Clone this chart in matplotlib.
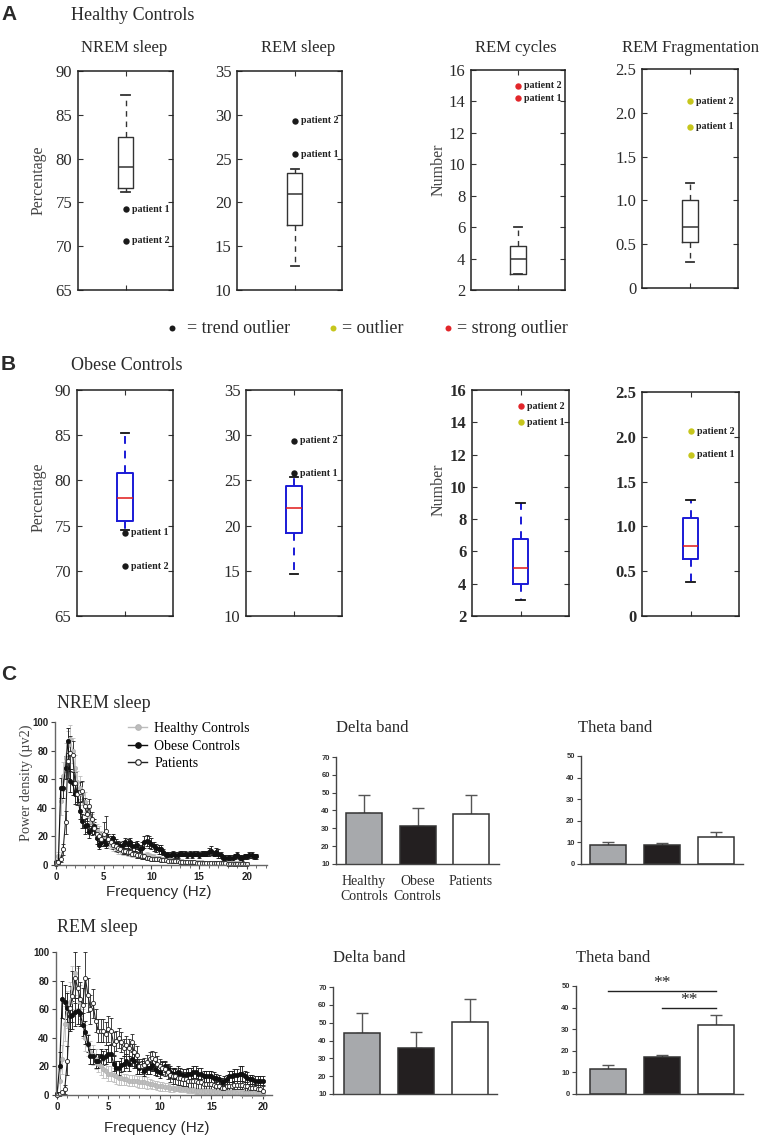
import numpy as np
import matplotlib
matplotlib.use("Agg")
import matplotlib.pyplot as plt
from matplotlib.lines import Line2D
from matplotlib.ticker import MultipleLocator

SERIF = ["Liberation Serif", "DejaVu Serif"]
SANS = ["Liberation Sans", "DejaVu Sans"]
plt.rcParams["font.family"] = SERIF

# ======================= DATA =======================
# ---- Panels A / B: box plots ----
box_titles = ["NREM sleep", "REM sleep", "REM cycles", "REM Fragmentation"]
box_ylabels = ["Percentage", None, "Number", None]
box_ylims = [(65, 90), (10, 35), (2, 16), (0, 2.5)]
box_yticks = [[65, 70, 75, 80, 85, 90], [10, 15, 20, 25, 30, 35],
              [2, 4, 6, 8, 10, 12, 14, 16], [0, 0.5, 1.0, 1.5, 2.0, 2.5]]
box_yticklabels = [None, None, None, ["0", "0.5", "1.0", "1.5", "2.0", "2.5"]]

healthy_whislo = [76.2, 12.7, 3.0, 0.30]
healthy_q1 = [76.7, 17.4, 3.0, 0.52]
healthy_med = [79.0, 21.0, 4.0, 0.70]
healthy_q3 = [82.5, 23.3, 4.8, 1.00]
healthy_whishi = [87.3, 23.8, 6.0, 1.20]
healthy_patient1 = [74.2, 25.5, 14.2, 1.84]
healthy_patient2 = [70.6, 29.3, 15.0, 2.13]
healthy_patient1_class = ["trend", "trend", "strong", "outlier"]
healthy_patient2_class = ["trend", "trend", "strong", "outlier"]

obese_whislo = [74.5, 14.6, 3.0, 0.38]
obese_q1 = [75.5, 19.2, 4.0, 0.64]
obese_med = [78.0, 22.0, 5.0, 0.78]
obese_q3 = [80.8, 24.4, 6.8, 1.09]
obese_whishi = [85.2, 25.4, 9.0, 1.29]
obese_patient1 = [74.2, 25.8, 14.0, 1.80]
obese_patient2 = [70.5, 29.4, 15.0, 2.06]
obese_patient1_class = ["trend", "trend", "outlier", "outlier"]
obese_patient2_class = ["trend", "trend", "strong", "outlier"]

outlier_legend = [("trend", "= trend outlier"), ("outlier", "= outlier"),
                  ("strong", "= strong outlier")]

# ---- Panel C: power spectra (0.25 Hz bins) ----
group_names = ["Healthy Controls", "Obese Controls", "Patients"]
freq_step = 0.25

nrem_healthy = [2, 6, 45, 62, 75, 84, 88, 80, 68, 58, 54, 50, 44, 38, 34, 30,
                27, 24, 22, 20, 18, 17, 16, 14, 13, 12, 11, 10.5, 10, 9.5, 9, 8.5,
                8, 7.5, 7, 6.8, 6.5, 6.5, 6.8, 6.5, 6, 5.5, 5, 4.6, 4.3, 4, 3.7, 3.5,
                3.3, 3.1, 3, 2.8, 2.6, 2.5, 2.4, 2.3, 2.2, 2.1, 2, 1.9, 1.8, 1.8,
                1.7, 1.6, 1.6, 1.5, 1.5, 1.4, 1.4, 1.3, 1.3, 1.3, 1.2, 1.2, 1.2, 1.1,
                1.1, 1.1, 1.0, 1.0, 1.0]
nrem_healthy_err = [1, 3, 10, 10, 10, 10, 10, 9, 9, 8, 8, 8, 7, 7, 6, 6,
                    5, 5, 5, 4, 4, 4, 4, 3, 3, 3, 3, 3, 3, 2.5, 2.5, 2.5,
                    2.5, 2, 2, 2, 2, 2, 2, 2, 2, 2, 1.5, 1.5, 1.5, 1.5, 1.5, 1.5,
                    1.5, 1, 1, 1, 1, 1, 1, 1, 1, 1, 1, 1, 1, 1, 1, 1, 1, 1,
                    1, 1, 1, 1, 1, 1, 1, 1, 1, 1, 1, 1, 1, 1, 1]
nrem_obese = [2, 2, 54, 54, 68, 87, 59, 57, 50, 51, 38, 31, 27, 28, 23, 25,
              27, 19, 14, 16, 17, 15, 18, 17, 19, 15, 14, 13, 14, 16, 15, 16,
              13, 13, 14, 11, 12, 16, 17, 16, 15, 13, 12, 11, 11, 9, 7, 7,
              7, 8, 7, 7, 8, 8, 8, 7, 8, 7, 8, 8, 7, 8, 8, 8,
              9, 10, 8, 9, 8, 7, 5, 5, 5, 5, 5, 6, 7, 5, 5, 6,
              6, 7, 7, 6, 6]
nrem_obese_err = [1, 1, 7, 7, 8, 9, 8, 8, 7, 7, 6, 5, 5, 5, 4, 4,
                  5, 4, 3, 3, 4, 3, 4, 3, 3, 3, 3, 3, 3, 3, 3, 3,
                  3, 3, 3, 3, 4, 4, 4, 4, 4, 3, 3, 3, 3, 2, 2, 2,
                  2, 2, 2, 2, 2, 2, 2, 2, 2, 2, 2, 2, 2, 2, 2, 2,
                  3, 3, 2, 3, 3, 2, 2, 2, 2, 2, 2, 2, 2, 2, 2, 2,
                  2, 2, 2, 2, 2]
nrem_patients = [1, 2, 4, 11, 30, 73, 78, 77, 57, 50, 51, 52, 41, 36, 41, 32,
                 26, 22, 20, 18, 22, 24, 18, 16, 14, 13, 12, 11, 10, 10, 9, 9,
                 8, 8, 7, 7, 6, 6, 5, 5, 4.5, 4.5, 4, 4, 3.5, 3.5, 3.2, 3,
                 3, 2.8, 2.6, 2.5, 2.4, 2.3, 2.2, 2.1, 2, 1.9, 1.8, 1.7,
                 1.6, 1.5, 1.4, 1.4, 1.3, 1.3, 1.2, 1.2, 1.2, 1.1, 1.1, 1.1,
                 1, 1, 1, 1, 1, 1, 1, 1, 1]
nrem_patients_err = [1, 1, 2, 4, 8, 12, 12, 10, 8, 8, 7, 7, 6, 5, 5, 5,
                     4, 4, 3, 3, 8, 10, 4, 3, 3, 3, 3, 2, 2, 2, 2, 2,
                     2, 2, 2, 2, 2, 2, 1.5, 1.5, 1.5, 1.5, 1.5, 1.5, 1.5, 1, 1, 1,
                     1, 1, 1, 1, 1, 1, 1, 1, 1, 1, 1, 1, 1, 1, 1, 1,
                     1, 1, 1, 1, 1, 1, 1, 1, 1, 1, 1, 1, 1, 1, 1, 1, 1]

rem_healthy = [1, 10, 25, 50, 60, 65, 75, 85, 75, 65, 50, 40, 35, 30, 28, 25,
               22, 20, 18, 17, 15, 15, 14, 13, 12, 12, 11, 11, 10, 10, 10, 9.5,
               9, 9, 9, 8.5, 8, 7.5, 7, 6.5, 6, 6, 5.5, 5.5, 5, 5, 4.5, 4.5,
               4, 4, 4, 3.5, 3.5, 3.5, 3, 3, 3, 3, 2.8, 2.6, 2.5, 2.5, 2.3, 2.2,
               2, 2, 2, 1.9, 1.8, 1.8, 1.7, 1.7, 1.6, 1.6, 1.5, 1.5,
               1.5, 1.5, 1.5, 1.5, 1.5]
rem_healthy_err = [1, 8, 10, 12, 13, 14, 15, 15, 14, 12, 10, 9, 8, 8, 7, 7,
                   6, 6, 6, 5, 5, 5, 5, 5, 5, 5, 4, 4, 4, 4, 4, 4,
                   4, 4, 4, 4, 3, 3, 3, 3, 3, 3, 3, 3, 3, 3, 2, 2,
                   2, 2, 2, 2, 2, 2, 2, 2, 2, 2, 2, 2, 2, 2, 2, 2,
                   2, 2, 2, 2, 2, 2, 2, 2, 2, 2, 2, 2, 2, 2, 2, 2, 2]
rem_obese = [1, 20, 67, 65, 61, 55, 56, 58, 59, 57, 49, 44, 36, 27, 27, 24,
             24, 27, 26, 27, 29, 29, 22, 19, 19, 21, 22, 24, 22, 25, 24, 20,
             19, 20, 17, 19, 19, 21, 18, 17, 16, 19, 20, 18, 16, 15, 15, 16,
             15, 14, 14, 15, 15, 16, 16, 15, 15, 13, 13, 13, 13, 12, 12, 11,
             9, 10, 11, 13, 13, 14, 14, 15, 15, 13, 12, 11, 11, 10, 10, 10, 10]
rem_obese_err = [1, 10, 13, 12, 10, 10, 10, 10, 9, 9, 8, 8, 6, 5, 5, 5,
                 5, 5, 5, 5, 6, 6, 5, 5, 5, 5, 5, 5, 5, 5, 5, 5,
                 4, 4, 4, 4, 4, 4, 4, 4, 4, 4, 4, 4, 4, 4, 4, 4,
                 4, 4, 4, 4, 4, 4, 4, 4, 4, 4, 4, 4, 4, 4, 3, 3,
                 3, 3, 3, 4, 4, 4, 4, 5, 5, 4, 4, 3, 3, 3, 3, 3, 3]
rem_patients = [0, 1, 2, 4, 24, 61, 69, 82, 75, 67, 63, 82, 70, 60, 64, 52,
                45, 45, 45, 43, 46, 45, 36, 38, 40, 37, 33, 35, 33, 37, 30, 28,
                20, 20, 21, 23, 25, 26, 25, 22, 20, 19, 18, 16, 14, 13, 13, 12,
                12, 11, 11, 10, 10, 10, 10, 9, 9, 8, 8, 8, 8, 7, 6, 6,
                5, 5, 6, 6, 6, 7, 7, 7, 7, 6, 6, 5, 5, 5, 4, 4, 3]
rem_patients_err = [0.5, 1, 1, 3, 10, 15, 18, 18, 15, 12, 12, 18, 12, 10, 10, 8,
                    8, 8, 8, 8, 9, 9, 8, 7, 7, 7, 6, 6, 6, 6, 6, 6,
                    5, 5, 5, 5, 5, 5, 5, 5, 5, 5, 5, 5, 5, 5, 5, 5,
                    5, 5, 5, 5, 6, 6, 6, 6, 5, 5, 5, 5, 4, 4, 4, 4,
                    3, 3, 3, 3, 3, 3, 3, 3, 3, 3, 3, 3, 3, 3, 3, 3, 3]

# ---- Panel C: band power bars ----
bar_groups = ["Healthy\nControls", "Obese\nControls", "Patients"]
nrem_delta_mean = [38.8, 31.2, 38.2]
nrem_delta_sem = [9.8, 10.3, 10.6]
nrem_theta_mean = [8.6, 9.0, 12.3]
nrem_theta_sem = [1.8, 0.5, 2.5]
rem_delta_mean = [44.1, 35.7, 50.6]
rem_delta_sem = [11.4, 9.1, 12.9]
rem_theta_mean = [11.4, 17.3, 32.1]
rem_theta_sem = [2.0, 0.9, 4.5]
rem_theta_sig_pairs = [(0, 2), (1, 2)]
rem_theta_sig_heights = [47.8, 39.8]
rem_theta_sig_labels = ["**", "**"]

# ======================= STYLE / LAYOUT =======================
W, H = 764, 1137
fig = plt.figure(figsize=(W / 100, H / 100), dpi=100)

TXT = "#2a2a2a"
CLASS_COLORS = {"trend": "#1a1a1a", "outlier": "#c6c61c", "strong": "#e2262a"}
GROUP_COLORS = ["#a7a9ac", "#231f20", "#ffffff"]


def px_axes(l, t, r, b):
    return fig.add_axes([l / W, 1 - b / H, (r - l) / W, (b - t) / H])


def ftext(x, y, s, **kw):
    kw.setdefault("color", TXT)
    return fig.text(x / W, 1 - y / H, s, **kw)


# panel letters / headings
ftext(1, 15, "A", family=SANS, weight="bold", fontsize=15, va="center")
ftext(71, 15, "Healthy Controls", fontsize=13, va="center")
ftext(1, 365, "B", family=SANS, weight="bold", fontsize=15, va="center")
ftext(71, 366, "Obese Controls", fontsize=13, va="center")
ftext(1, 675, "C", family=SANS, weight="bold", fontsize=15, va="center")

# ---- box plots ----
row_A_axes = [(78, 71, 173, 290, 125.5), (237, 71, 342, 290, 294.7),
              (471, 70, 565, 290, 518), (642, 69, 738, 288, 690)]
row_B_axes = [(77, 390, 173, 616, 125), (246, 390, 342, 616, 294),
              (472, 390, 569, 616, 520.5), (642, 392, 739, 616, 690.5)]
title_centers = [124, 298, 516, 690]
ylabel_x = [39, None, 439, None]

rows = [
    dict(axes=row_A_axes, lo=healthy_whislo, q1=healthy_q1, med=healthy_med,
         q3=healthy_q3, hi=healthy_whishi, p1=healthy_patient1, p2=healthy_patient2,
         c1=healthy_patient1_class, c2=healthy_patient2_class,
         boxc="#333333", medc="#333333", whc="#333333", capc="#333333",
         bold=[False, False, False, False], titles=True, ylab_y=[180, None, 170, None]),
    dict(axes=row_B_axes, lo=obese_whislo, q1=obese_q1, med=obese_med,
         q3=obese_q3, hi=obese_whishi, p1=obese_patient1, p2=obese_patient2,
         c1=obese_patient1_class, c2=obese_patient2_class,
         boxc="#1a1ad6", medc="#e01818", whc="#1a1ad6", capc="#111111",
         bold=[False, False, True, True], titles=False, ylab_y=[497, None, 490, None]),
]

S = 95.0
for row in rows:
    for i, (l, t, r, b, cx) in enumerate(row["axes"]):
        ax = px_axes(l, t, r, b)
        ax.set_xlim(1 - (cx - l) / S, 1 + (r - cx) / S)
        stats = [dict(whislo=row["lo"][i], q1=row["q1"][i], med=row["med"][i],
                      q3=row["q3"][i], whishi=row["hi"][i], fliers=[])]
        lw = 1.0 if row["titles"] else 1.4
        ax.bxp(stats, positions=[1], widths=0.16, capwidths=[0.085],
               showfliers=False, manage_ticks=False,
               boxprops=dict(color=row["boxc"], lw=lw),
               medianprops=dict(color=row["medc"], lw=1.1),
               whiskerprops=dict(color=row["whc"], lw=lw, linestyle=(0, (4, 3.5))),
               capprops=dict(color=row["capc"], lw=1.3))
        for val, cls, lab in [(row["p1"][i], row["c1"][i], "patient 1"),
                              (row["p2"][i], row["c2"][i], "patient 2")]:
            ax.plot([1], [val], "o", ms=4.6, color=CLASS_COLORS[cls], mec="none")
            ax.annotate(lab, (1, val), xytext=(4.5, 0), textcoords="offset points",
                        va="center", ha="left", fontsize=7.2, weight="bold",
                        color="#222222")
        ax.set_ylim(*box_ylims[i])
        ax.set_yticks(box_yticks[i])
        if box_yticklabels[i] is not None:
            ax.set_yticklabels(box_yticklabels[i])
        ax.set_xticks([1])
        ax.set_xticklabels([])
        ax.tick_params(axis="both", direction="in", length=3.5, width=0.8,
                       right=True, top=True, colors="#333333", labelsize=12, pad=4)
        for lbl in ax.get_yticklabels():
            lbl.set_family(SERIF)
            lbl.set_color(TXT)
            if row["bold"][i]:
                lbl.set_weight("bold")
        for sp in ax.spines.values():
            sp.set_linewidth(1.1)
            sp.set_color("#222222")
        if row["titles"]:
            ftext(title_centers[i], 48, box_titles[i], fontsize=12, ha="center", va="center")
        if box_ylabels[i] is not None:
            ftext(ylabel_x[i], row["ylab_y"][i], box_ylabels[i], fontsize=11.5,
                  rotation=90, ha="center", va="center", color="#444444")

# outlier legend row
leg_dot_x = [172, 333, 448]
leg_txt_x = [187, 342, 457]
for (cls, lab), dx, tx in zip(outlier_legend, leg_dot_x, leg_txt_x):
    fig.add_artist(Line2D([dx / W], [1 - 328 / H], marker="o", ms=4.3,
                          color=CLASS_COLORS[cls], mec="none", ls="none",
                          transform=fig.transFigure))
    ftext(tx, 328, lab, fontsize=13, va="center", ha="left")


# ---- spectra ----
def draw_spectrum(box, xlim, series, legend=False):
    l, t, r, b = box
    ax = px_axes(l, t, r, b)
    styles = [dict(color="#bdbdbd", mfc="#bdbdbd", mec="#b5b5b5"),
              dict(color="#111111", mfc="#111111", mec="#111111"),
              dict(color="#222222", mfc="#ffffff", mec="#222222")]
    handles = []
    for (vals, errs), st, name in zip(series, styles, group_names):
        f = np.arange(len(vals)) * freq_step
        ax.errorbar(f, vals, yerr=errs, marker="o", ms=3.0, lw=0.8,
                    elinewidth=0.6, capsize=1.6, capthick=0.6, mew=0.6,
                    clip_on=False, **st)
        handles.append(Line2D([], [], marker="o", ms=4.0, lw=1.0, mew=0.8, **st))
    ax.set_xlim(*xlim)
    ax.set_ylim(0, 100)
    ax.set_xticks([0, 5, 10, 15, 20])
    ax.xaxis.set_minor_locator(MultipleLocator(1))
    ax.set_yticks([0, 20, 40, 60, 80, 100])
    ax.spines[["top", "right"]].set_visible(False)
    for sp in ["left", "bottom"]:
        ax.spines[sp].set_color("#666666")
        ax.spines[sp].set_linewidth(1.0)
    ax.tick_params(axis="both", which="major", direction="out", length=3, width=0.8,
                   colors="#444444", labelsize=7, pad=2)
    ax.tick_params(axis="x", which="minor", direction="out", length=2, width=0.6,
                   colors="#555555")
    for lbl in ax.get_xticklabels() + ax.get_yticklabels():
        lbl.set_family(SANS)
        lbl.set_weight("bold")
        lbl.set_color("#222222")
    if legend:
        ax.legend(handles, group_names, loc="upper left",
                  bbox_to_anchor=(128 / W, 1 - 722 / H), bbox_transform=fig.transFigure,
                  frameon=False, borderpad=0, borderaxespad=0, handlelength=1.4,
                  handletextpad=0.5, labelspacing=0.33,
                  prop=dict(family=SERIF, size=10))
    return ax


ftext(57, 703, "NREM sleep", fontsize=13, va="center")
draw_spectrum((55, 722, 267, 865), (-0.1, 22.1),
              [(nrem_healthy, nrem_healthy_err), (nrem_obese, nrem_obese_err),
               (nrem_patients, nrem_patients_err)], legend=True)
ftext(159, 892, "Frequency (Hz)", family=SANS, fontsize=11, ha="center", va="center")
ftext(26, 783, "Power density (\u00b5v2)", fontsize=10.3, rotation=90,
      ha="center", va="center", color="#444444")

ftext(57, 927, "REM sleep", fontsize=13, va="center")
draw_spectrum((56, 952, 272, 1095), (-0.1, 20.9),
              [(rem_healthy, rem_healthy_err), (rem_obese, rem_obese_err),
               (rem_patients, rem_patients_err)])
ftext(157, 1128, "Frequency (Hz)", family=SANS, fontsize=11, ha="center", va="center")


# ---- bar charts ----
def draw_bars(box, centers, ylim, yticks, means, sems, title, title_xy,
              xlabels=False):
    l, t, r, b = box
    ax = px_axes(l, t, r, b)
    sp = (centers[2] - centers[0]) / 2.0
    ax.set_xlim(-(centers[0] - l) / sp, 2 + (r - centers[2]) / sp)
    x = np.arange(len(means))
    ax.bar(x, means, width=36 / sp, color=GROUP_COLORS, edgecolor="#333333",
           linewidth=1.1, zorder=2)
    ax.errorbar(x, means, yerr=[np.zeros(len(sems)), sems], fmt="none",
                ecolor="#555555", elinewidth=1.0, capsize=4, capthick=1.0, zorder=1)
    ax.set_ylim(*ylim)
    ax.set_yticks(yticks)
    ax.spines[["top", "right"]].set_visible(False)
    for s in ["left", "bottom"]:
        ax.spines[s].set_color("#444444")
        ax.spines[s].set_linewidth(1.0)
    ax.tick_params(axis="y", direction="out", length=3, width=0.8, colors="#444444",
                   labelsize=5.5, pad=1.5)
    for lbl in ax.get_yticklabels():
        lbl.set_family(SANS)
        lbl.set_weight("bold")
        lbl.set_color("#333333")
    ax.set_xticks(x)
    if xlabels:
        ax.set_xticklabels(bar_groups, fontsize=10, linespacing=1.2, color=TXT)
        ax.tick_params(axis="x", length=0, pad=8)
    else:
        ax.tick_params(axis="x", length=0, labelbottom=False)
    ftext(title_xy[0], title_xy[1], title, fontsize=12, va="center")
    return ax


draw_bars((336, 757, 499, 864), [364, 417, 471], (10, 70), [10, 20, 30, 40, 50, 60, 70],
          nrem_delta_mean, nrem_delta_sem, "Delta band", (336, 728), xlabels=True)
draw_bars((581, 756, 743, 864), [608, 662, 715.5], (0, 50), [0, 10, 20, 30, 40, 50],
          nrem_theta_mean, nrem_theta_sem, "Theta band", (578, 728))
draw_bars((333, 987, 497, 1094), [362, 416, 470], (10, 70), [10, 20, 30, 40, 50, 60, 70],
          rem_delta_mean, rem_delta_sem, "Delta band", (333, 958))
axT = draw_bars((576, 986, 743, 1094), [607.5, 661.5, 715.5], (0, 50),
                [0, 10, 20, 30, 40, 50], rem_theta_mean, rem_theta_sem,
                "Theta band", (576, 958))
for (a, b_), h, lab in zip(rem_theta_sig_pairs, rem_theta_sig_heights, rem_theta_sig_labels):
    axT.plot([a, b_], [h, h], color="#222222", lw=1.0, clip_on=False)
    axT.text((a + b_) / 2, h + 3.5, lab, ha="center", va="center", fontsize=12.5,
             color="#222222", clip_on=False)

fig.savefig("out.png", dpi=100)
